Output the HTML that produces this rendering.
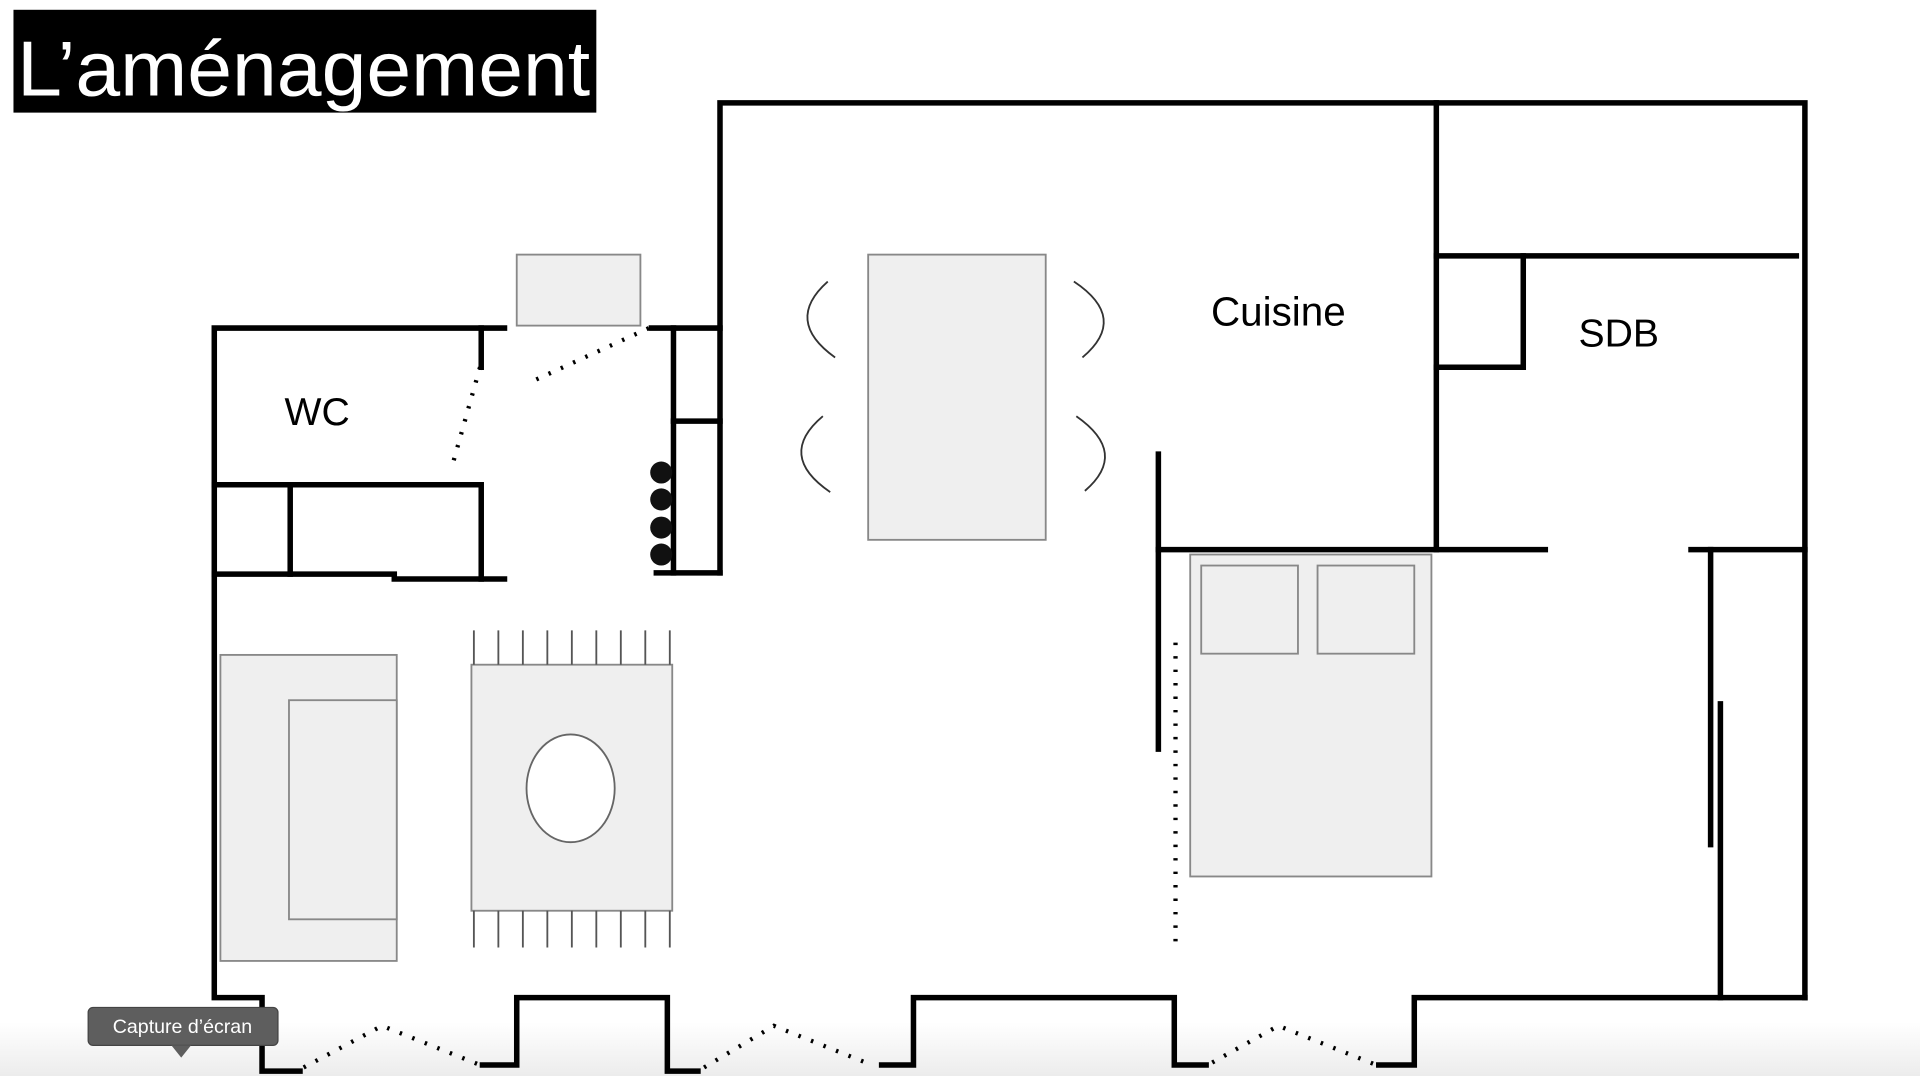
<!DOCTYPE html>
<html><head><meta charset="utf-8"><style>
html,body{margin:0;padding:0;background:#fff;}
svg{display:block;}
</style></head><body>
<svg width="1920" height="1076" viewBox="0 0 1568 879" preserveAspectRatio="none" xmlns="http://www.w3.org/2000/svg">
<defs><linearGradient id="g" x1="0" y1="0" x2="0" y2="1"><stop offset="0" stop-color="#fff"/><stop offset="1" stop-color="#ececec"/></linearGradient></defs>
<rect x="0" y="835" width="1568" height="44" fill="url(#g)"/>
<rect x="11" y="8" width="476" height="84" fill="#000"/>
<text x="14" y="78" font-family="Liberation Sans, sans-serif" font-size="64" fill="#fff" textLength="468" lengthAdjust="spacingAndGlyphs">L’aménagement</text>
<g stroke="#000" stroke-width="4.5" fill="none" stroke-linecap="square">
<path d="M588 468V84H1474V815"/>
<path d="M1173 84V449"/>
<path d="M1173 209H1467"/>
<path d="M1173 300H1244V209"/>
<path d="M946 449H1262"/>
<path d="M1381 449H1474"/>
<path d="M1397 449V690"/>
<path d="M1405 575V815"/>
<path d="M946 371V612"/>
<path d="M412 268H175V815H214V875H245"/>
<path d="M393 268V300"/>
<path d="M175 396H393V473"/>
<path d="M237 396V469"/>
<path d="M175 469H322V473H412"/>
<path d="M532 268H588"/>
<path d="M550 268V468"/>
<path d="M550 344H588"/>
<path d="M536 468H588"/>
<path d="M394 870H422V815H545V875H570"/>
<path d="M720 870H746V815H959V870H985"/>
<path d="M1126 870H1155V815H1474"/>
</g>
<g stroke="#000" stroke-width="3.5" fill="none" stroke-dasharray="2 9">
<path d="M392 300L370 378"/>
<path d="M438 310L530 268"/>
<path d="M960 525V770"/>
<path d="M248 872L312 838L392 870"/>
<path d="M575 872L632 838L712 870"/>
<path d="M990 868L1044 838L1124 870"/>
</g>
<g fill="#111">
<circle cx="540" cy="386" r="9"/><circle cx="540" cy="408" r="9"/><circle cx="540" cy="431" r="9"/><circle cx="540" cy="453" r="9"/>
</g>
<g fill="#efefef" stroke="#888" stroke-width="1.5">
<rect x="422" y="208" width="101" height="58"/>
<rect x="709" y="208" width="145" height="233"/>
<rect x="972" y="453" width="197" height="263"/>
<rect x="981" y="462" width="79" height="72"/>
<rect x="1076" y="462" width="79" height="72"/>
<rect x="180" y="535" width="144" height="250"/>
<rect x="236" y="572" width="88" height="179"/>
<rect x="385" y="543" width="164" height="201"/>
</g>
<ellipse cx="466" cy="644" rx="36" ry="44" fill="#fff" stroke="#666" stroke-width="1.5"/>
<g stroke="#555" stroke-width="1.5">
<path d="M387 515V543M407 515V543M427 515V543M447 515V543M467 515V543M487 515V543M507 515V543M527 515V543M547 515V543"/>
<path d="M387 744V774M407 744V774M427 744V774M447 744V774M467 744V774M487 744V774M507 744V774M527 744V774M547 744V774"/>
</g>
<g stroke="#333" stroke-width="1.5" fill="none">
<path d="M676 230Q640 262 682 292"/>
<path d="M672 340Q634 372 678 402"/>
<path d="M877 230Q922 260 884 292"/>
<path d="M879 340Q922 370 886 401"/>
</g>
<g font-family="Liberation Sans, sans-serif" fill="#000" text-anchor="middle">
<text x="259" y="347" font-size="32">WC</text>
<text x="1044" y="266" font-size="33">Cuisine</text>
<text x="1322" y="283" font-size="32">SDB</text>
</g>
<rect x="72" y="823" width="155" height="31" rx="4" fill="#5e5e5e" stroke="#444"/>
<path d="M140 854L148 864L156 854Z" fill="#5e5e5e"/>
<text x="149" y="844" font-family="Liberation Sans, sans-serif" font-size="16" fill="#fff" text-anchor="middle">Capture d’écran</text>
</svg>
</body></html>
